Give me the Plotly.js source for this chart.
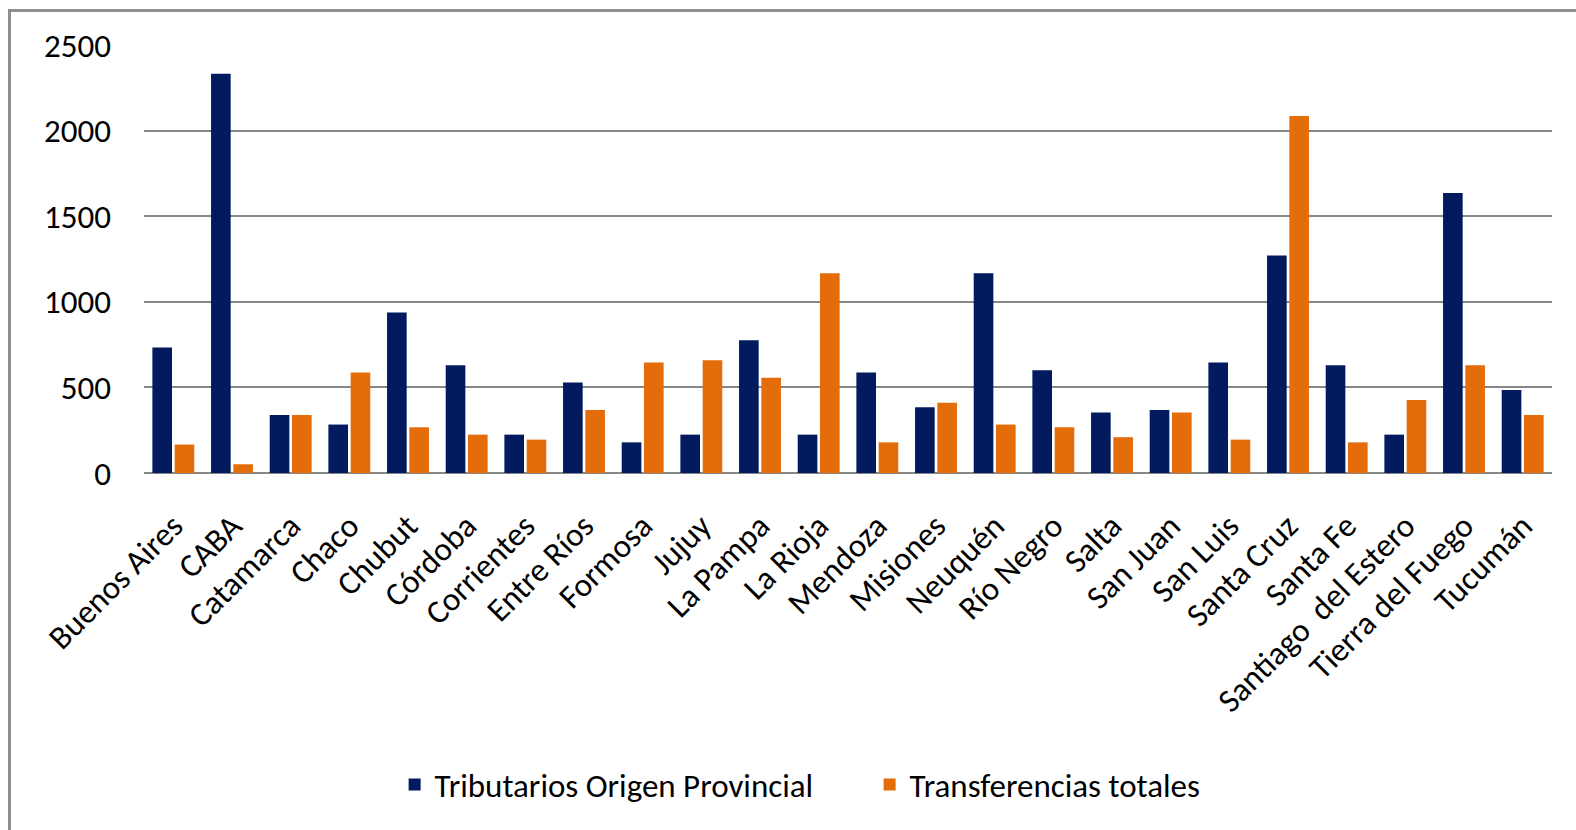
<!DOCTYPE html>
<html>
<head>
<meta charset="utf-8">
<script src="https://cdn.plot.ly/plotly-3.0.1.min.js"></script>
<style>
  html, body { margin: 0; padding: 0; background: #fff; }
  #wrap { position: relative; width: 1576px; height: 830px; overflow: hidden; }
  #chart { position: absolute; left: 0; top: 0; width: 1576px; height: 830px; }
  #frame { position: absolute; left: 8px; top: 9px; width: 1600px; height: 900px;
           border-left: 3px solid #8e8e8e; border-top: 3px solid #8e8e8e; pointer-events: none; }
</style>
</head>
<body>
<div id="wrap">
  <div id="chart"></div>
  <div id="frame"></div>
</div>
<script>
const provincias = ["Buenos Aires", "CABA", "Catamarca", "Chaco", "Chubut", "Córdoba", "Corrientes",
  "Entre Ríos", "Formosa", "Jujuy", "La Pampa", "La Rioja", "Mendoza", "Misiones", "Neuquén",
  "Río Negro", "Salta", "San Juan", "San Luis", "Santa Cruz", "Santa Fe", "Santiago  del Estero",
  "Tierra del Fuego", "Tucumán"];

const tributarios = [733, 2332, 339, 283, 937, 630, 224, 528, 179, 224, 776, 224, 587, 384, 1167,
  600, 353, 368, 645, 1271, 630, 224, 1635, 485];

const transferencias = [166, 51, 339, 587, 267, 224, 195, 368, 645, 659, 557, 1167, 179, 411, 283,
  267, 209, 353, 195, 2085, 179, 427, 630, 339];

const yTicks = [0, 500, 1000, 1500, 2000, 2500];

const FONT = "Carlito, 'Open Sans', sans-serif";

const traces = [
  { type: "bar", name: "Tributarios Origen Provincial", x: provincias, y: tributarios,
    marker: { color: "#021A5E" } },
  { type: "bar", name: "Transferencias totales", x: provincias, y: transferencias,
    marker: { color: "#E46C09" } }
];

const layout = {
  width: 1576, height: 830,
  paper_bgcolor: "#ffffff", plot_bgcolor: "#ffffff",
  margin: { l: 144, r: 24, t: 45, b: 357, pad: 0 },
  barmode: "group", bargap: 0.24, bargroupgap: 0.12,
  font: { family: FONT, size: 33, color: "#000000" },
  showlegend: true,
  legend: { orientation: "h", x: 0.178, xanchor: "left", y: -0.728, yanchor: "middle",
            entrywidth: 430, entrywidthmode: "pixels",
            font: { family: FONT, size: 33, color: "#000" }, bgcolor: "rgba(0,0,0,0)" },
  xaxis: { type: "category", tickangle: -45, showgrid: false, showline: false, ticks: "",
           zeroline: false, tickfont: { family: FONT, size: 33, color: "#000" },
           ticklabelstandoff: 26, automargin: false },
  yaxis: { range: [0, 2500], tickvals: yTicks, ticktext: yTicks.map(String),
           showgrid: true, gridcolor: "#878787", gridwidth: 2,
           zeroline: true, zerolinecolor: "#878787", zerolinewidth: 2,
           showline: false, ticks: "", ticklabelstandoff: 32,
           tickfont: { family: FONT, size: 33, color: "#000" }, automargin: false }
};

Plotly.newPlot("chart", traces, layout, { staticPlot: true, displayModeBar: false });
</script>
</body>
</html>
